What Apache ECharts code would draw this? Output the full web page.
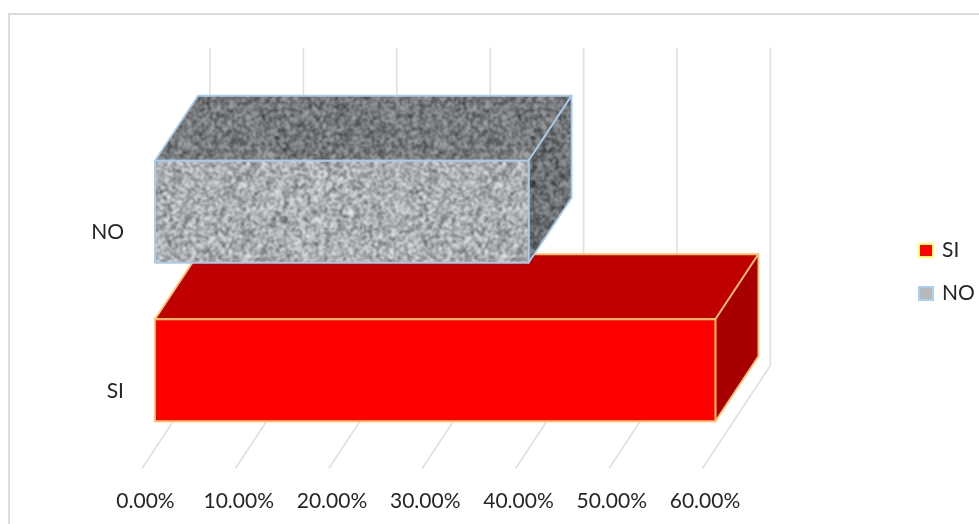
<!DOCTYPE html>
<html>
<head>
<meta charset="utf-8">
<style>html,body{margin:0;padding:0;background:#fff}#c{width:979px;height:524px}</style>
<script src="https://cdn.jsdelivr.net/npm/echarts@6/dist/echarts.min.js"></script>
</head>
<body>
<div id="c"></div>
<script>
// Chart data
const categories = ['SI', 'NO'];
const siValues = [60];
const noValues = [40];
const tickValues = [0, 10, 20, 30, 40, 50, 60];
const tickLabels = ['0.00%', '10.00%', '20.00%', '30.00%', '40.00%', '50.00%', '60.00%'];

// Granite fill for the NO block: mottled noise from a small fixed generator,
// tiled before blurring so the pattern repeats without seams
function granite(mean, spread, blue) {
  const size = 256, cell = 2;
  const raw = document.createElement('canvas');
  raw.width = raw.height = size * 3;
  const rc = raw.getContext('2d');
  let s = 12345 + mean;
  const next = () => (s = (s * 1103515245 + 12345) & 0x7fffffff) / 0x7fffffff;
  for (let y = 0; y < size; y += cell) {
    for (let x = 0; x < size; x += cell) {
      next();
      const r = next();
      let g = mean + (r - 0.5) * 2 * spread;
      if (next() > 0.965) g = mean - spread * 1.5;
      g = Math.max(0, Math.min(255, g));
      rc.fillStyle = 'rgb(' + g + ',' + (g + blue / 2) + ',' + (g + blue) + ')';
      for (let i = 0; i < 3; i++) {
        for (let j = 0; j < 3; j++) {
          rc.fillRect(x + i * size, y + j * size, cell, cell);
        }
      }
    }
  }
  const out = document.createElement('canvas');
  out.width = out.height = size;
  const oc = out.getContext('2d');
  oc.filter = 'blur(1px)';
  oc.drawImage(raw, -size, -size);
  return out;
}
const graniteFront = { image: granite(176, 62, 2), repeat: 'repeat' };
const graniteTop = { image: granite(122, 52, 4), repeat: 'repeat' };
const graniteSide = { image: granite(110, 52, 6), repeat: 'repeat' };

const DEPTH_X = 43, DEPTH_Y = -65, BLOCK_H = 102;

// Draws one block as front, top and side faces
function cuboid(front, top, side, stroke) {
  return function (params, api) {
    const end = api.coord([api.value(0), api.value(1)]);
    const start = api.coord([0, api.value(1)]);
    const y0 = end[1] - BLOCK_H / 2, y1 = end[1] + BLOCK_H / 2;
    const x0 = start[0], x1 = end[0];
    const face = (pts, fill) => ({
      type: 'polygon',
      shape: { points: pts },
      style: { fill: fill, stroke: stroke, lineWidth: 1.8, lineJoin: 'round' }
    });
    return {
      type: 'group',
      children: [
        face([[x0, y0], [x1, y0], [x1 + DEPTH_X, y0 + DEPTH_Y], [x0 + DEPTH_X, y0 + DEPTH_Y]], top),
        face([[x1, y0], [x1 + DEPTH_X, y0 + DEPTH_Y], [x1 + DEPTH_X, y1 + DEPTH_Y], [x1, y1]], side),
        face([[x0, y0], [x1, y0], [x1, y1], [x0, y1]], front)
      ]
    };
  };
}

// Wall and floor gridlines of the 3D box
function gridLine(params, api) {
  const x = api.coord([api.value(0), 0])[0];
  const r = params.coordSys;
  const bottom = r.y + r.height;
  return {
    type: 'polyline',
    shape: { points: [[x - 13, bottom + 19], [x + 55, bottom - 84], [x + 55, r.y - 85]] },
    style: { stroke: '#e0e0e0', lineWidth: 1.6, fill: 'none' },
    silent: true
  };
}

const chart = echarts.init(document.getElementById('c'), null, { renderer: 'canvas' });
const font = { fontFamily: 'Lato', fontSize: 21, color: '#262626' };

chart.setOption({
  animation: false,
  backgroundColor: '#fff',
  graphic: [{
    type: 'rect', silent: true,
    shape: { x: 9, y: 14, width: 1100, height: 700 },
    style: { fill: 'none', stroke: '#dcdcdc', lineWidth: 2 }
  }],
  legend: {
    left: 918, top: 240, padding: 0, orient: 'vertical', itemWidth: 14, itemHeight: 13, itemGap: 22,
    textStyle: Object.assign({}, font, { padding: [2, 0, 0, 4] }),
    selectedMode: false,
    data: [
      { name: 'SI', icon: 'rect', itemStyle: { color: '#ff0000', borderColor: '#ffff66', borderWidth: 2 } },
      { name: 'NO', icon: 'rect', itemStyle: { color: '#b9b9b9', borderColor: '#a9d0f5', borderWidth: 2 } }
    ]
  },
  grid: [
    { left: 145.5, width: 559.5, top: 152.5, height: 318 },
    { left: 155, width: 560.4, top: 132.5, height: 317 }
  ],
  xAxis: [
    {
      gridIndex: 0, type: 'value', min: 0, max: 60, interval: 10,
      axisLine: { show: false }, axisTick: { show: false }, splitLine: { show: false },
      axisLabel: Object.assign({}, font, { margin: 20, formatter: v => tickLabels[tickValues.indexOf(v)] })
    },
    { gridIndex: 1, type: 'value', min: 0, max: 60, show: false, splitLine: { show: false } }
  ],
  yAxis: [
    {
      gridIndex: 0, type: 'category', data: categories,
      axisLine: { show: false }, axisTick: { show: false }, splitLine: { show: false },
      axisLabel: Object.assign({}, font, { margin: 21.5 })
    },
    { gridIndex: 1, type: 'category', data: categories, show: false }
  ],
  series: [
    {
      type: 'custom', xAxisIndex: 1, yAxisIndex: 1, silent: true, z: 1,
      renderItem: gridLine, encode: { x: 0 },
      data: tickValues.map(v => [v])
    },
    {
      name: 'SI', type: 'custom', xAxisIndex: 1, yAxisIndex: 1, z: 2,
      renderItem: cuboid('#ff0000', '#c00000', '#a80000', '#f9c06a'),
      encode: { x: 0, y: 1 },
      data: siValues.map(v => [v, categories[0]])
    },
    {
      name: 'NO', type: 'custom', xAxisIndex: 1, yAxisIndex: 1, z: 3,
      renderItem: cuboid(graniteFront, graniteTop, graniteSide, '#a8cbea'),
      encode: { x: 0, y: 1 },
      data: noValues.map(v => [v, categories[1]])
    }
  ]
});
</script>
</body>
</html>
